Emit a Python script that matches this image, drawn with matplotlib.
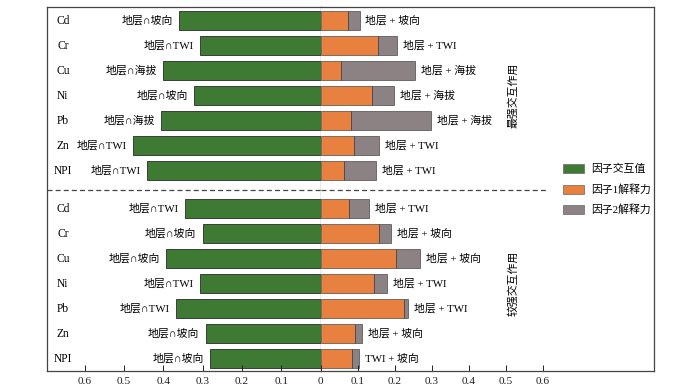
import numpy as np
import matplotlib
matplotlib.use("Agg")
import matplotlib.pyplot as plt
from matplotlib.patches import Patch

plt.rcParams['font.family'] = ['Liberation Serif', 'Noto Sans CJK SC']

# datos: grupo superior (最强交互作用) y grupo inferior (较强交互作用)
elements = ['Cd', 'Cr', 'Cu', 'Ni', 'Pb', 'Zn', 'NPI']

top_inter = [0.360, 0.307, 0.400, 0.322, 0.406, 0.477, 0.443]
top_f1 = [0.075, 0.156, 0.056, 0.139, 0.081, 0.091, 0.064]
top_total = [0.105, 0.206, 0.256, 0.198, 0.298, 0.158, 0.149]
top_left_lab = ['地层∩坡向', '地层∩TWI', '地层∩海拔', '地层∩坡向', '地层∩海拔', '地层∩TWI', '地层∩TWI']
top_right_lab = ['地层 + 坡向', '地层 + TWI', '地层 + 海拔', '地层 + 海拔', '地层 + 海拔', '地层 + TWI', '地层 + TWI']

bot_inter = [0.346, 0.300, 0.394, 0.307, 0.369, 0.293, 0.282]
bot_f1 = [0.077, 0.158, 0.204, 0.143, 0.224, 0.094, 0.085]
bot_total = [0.130, 0.191, 0.268, 0.179, 0.236, 0.112, 0.103]
bot_left_lab = ['地层∩TWI', '地层∩坡向', '地层∩坡向', '地层∩TWI', '地层∩TWI', '地层∩坡向', '地层∩坡向']
bot_right_lab = ['地层 + TWI', '地层 + 坡向', '地层 + 坡向', '地层 + TWI', '地层 + TWI', '地层 + 坡向', 'TWI + 坡向']

xticks = [0, 0.1, 0.2, 0.3, 0.4, 0.5, 0.6]

green = '#3e7a33'
orange = '#e8803f'
gray = '#8c8283'
edge = '#2a2a2a'
fs = 7.8

inter = np.array(top_inter + bot_inter)
f1 = np.array(top_f1 + bot_f1)
f2 = np.array(top_total + bot_total) - f1
left_lab = top_left_lab + bot_left_lab
right_lab = top_right_lab + bot_right_lab
n = len(elements)
gap = 1.53
y = np.concatenate([np.arange(n), np.arange(n) + n + gap - 1])

fig = plt.figure(figsize=(7, 3.91), dpi=100)
b, h = 0.0512, 0.931
ax_l = fig.add_axes([0.0671, b, 0.3910, h])
ax_r = fig.add_axes([0.4581, b, 0.4762, h])

bh = 0.77
ax_l.barh(y, inter, height=bh, color=green, edgecolor=edge, linewidth=0.6)
ax_r.barh(y, f1, height=bh, color=orange, edgecolor=edge, linewidth=0.4)
ax_r.barh(y, f2, left=f1, height=bh, color=gray, edgecolor=edge, linewidth=0.4)

for yi, v, t in zip(y, inter, left_lab):
    ax_l.text(v + 0.016, yi, t, ha='right', va='center', fontsize=fs)
for yi, v, t in zip(y, f1 + f2, right_lab):
    ax_r.text(v + 0.016, yi, t, ha='left', va='center', fontsize=fs)
for yi, e in zip(y, elements * 2):
    ax_l.text(0.656, yi, e, ha='center', va='center', fontsize=8.3)

ylim = (y[-1] + 0.49, -0.55)
ax_l.set_xlim(0.6964, 0)
ax_r.set_xlim(0, 0.9008)
for ax in (ax_l, ax_r):
    ax.set_ylim(*ylim)
    ax.set_yticks([])
    ax.set_xticks(xticks)
    ax.tick_params(axis='x', direction='in', length=4.3, width=0.7, pad=4, colors='#222',
                   labelsize=8.2)
    for s in ax.spines.values():
        s.set_linewidth(0.9)
        s.set_color('#444')
ax_l.set_xticklabels(['0'] + [f'{t:.1f}' for t in xticks[1:]])
ax_r.set_xticklabels([''] + [f'{t:.1f}' for t in xticks[1:]])
ax_r.spines['left'].set_visible(False)
ax_l.spines['right'].set_color('#555')
ax_l.spines['right'].set_linewidth(0.9)

# linea discontinua entre grupos
ysep = (y[n - 1] + y[n]) / 2
ax_l.axhline(ysep, color='#444', lw=0.9, ls=(0, (4, 2.5)))
ax_r.axhline(ysep, xmin=0, xmax=0.682, color='#444', lw=0.9, ls=(0, (4, 2.5)))

ax_r.text(0.519, np.mean(y[:n]), '最强交互作用', rotation=90, ha='center', va='center', fontsize=fs)
ax_r.text(0.519, np.mean(y[n:]), '较强交互作用', rotation=90, ha='center', va='center', fontsize=fs)

handles = [Patch(facecolor=green, edgecolor='#666', linewidth=0.5),
           Patch(facecolor=orange, edgecolor='#666', linewidth=0.5),
           Patch(facecolor=gray, edgecolor='#666', linewidth=0.5)]
fig.legend(handles, ['因子交互值', '因子1解释力', '因子2解释力'], loc='upper left',
           bbox_to_anchor=(563 / 700, 1 - 164 / 391), frameon=False, fontsize=fs,
           borderpad=0, borderaxespad=0, handlelength=1.9, handleheight=0.9,
           handletextpad=0.7, labelspacing=0.9)

fig.savefig('out.png', dpi=100)
